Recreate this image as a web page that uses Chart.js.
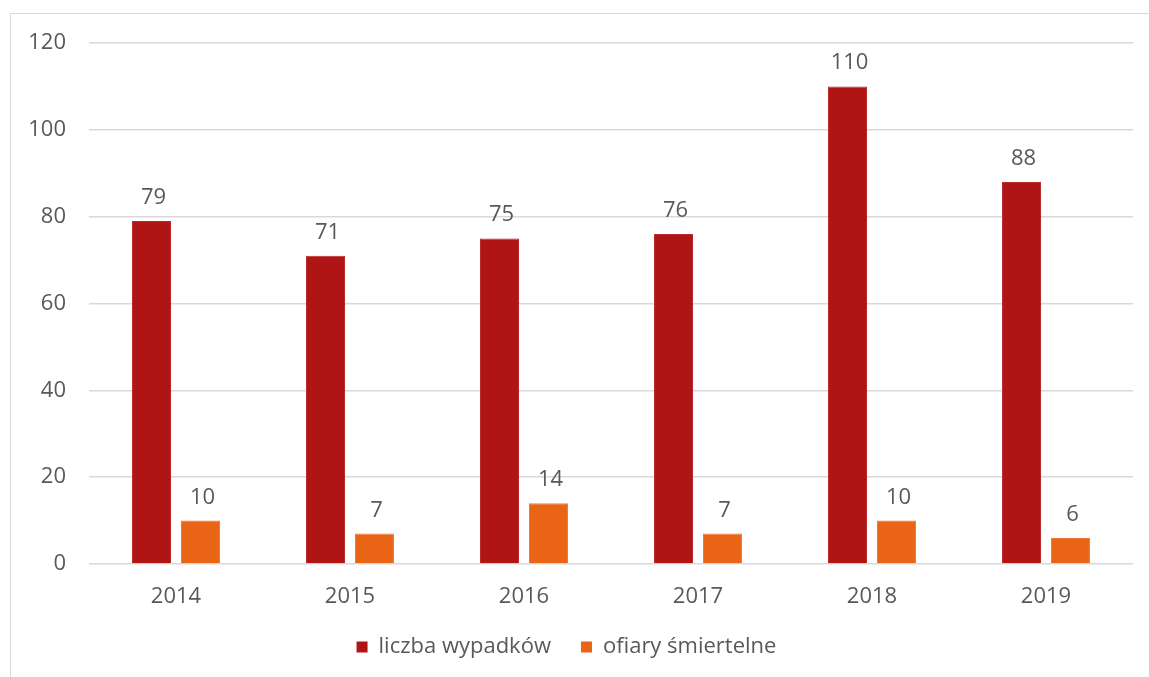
<!DOCTYPE html>
<html>
<head>
<meta charset="utf-8">
<script src="https://cdn.jsdelivr.net/npm/chart.js@4/dist/chart.umd.min.js"></script>
<style>
html,body{margin:0;padding:0;background:#fff;}
#wrap{position:relative;width:1149px;height:677px;overflow:hidden;}
#frame{position:absolute;left:10px;top:13px;width:1200px;height:700px;border-left:1px solid #d9d9d9;border-top:1px solid #d9d9d9;}
canvas{position:absolute;left:0;top:0;}
</style>
</head>
<body>
<div id="wrap"><div id="frame"></div><canvas id="c" width="1149" height="677"></canvas></div>
<script>
const categories = ['2014','2015','2016','2017','2018','2019'];
const accidents = [79, 71, 75, 76, 110, 88];
const fatalities = [10, 7, 14, 7, 10, 6];
const seriesNames = ['liczba wypadków', 'ofiary śmiertelne'];
const yTicks = [0, 20, 40, 60, 80, 100, 120];

const FONT = '"Open Sans", sans-serif';
const TXT = '#595959';

const labelPlugin = {
  id: 'valueLabels',
  afterDatasetsDraw(chart) {
    const ctx = chart.ctx;
    ctx.save();
    ctx.font = '22px ' + FONT;
    ctx.fillStyle = TXT;
    ctx.textAlign = 'center';
    ctx.textBaseline = 'alphabetic';
    chart.data.datasets.forEach((ds, i) => {
      const meta = chart.getDatasetMeta(i);
      meta.data.forEach((el, j) => {
        ctx.fillText(String(ds.data[j]), el.x + 2, el.y - 17);
      });
    });
    ctx.restore();
  }
};

new Chart(document.getElementById('c'), {
  type: 'bar',
  data: {
    labels: categories,
    datasets: [
      { label: seriesNames[0], data: accidents, backgroundColor: '#b01516', borderColor: '#b92a2a', borderWidth: 1 },
      { label: seriesNames[1], data: fatalities, backgroundColor: '#ea6415', borderColor: '#ee7a38', borderWidth: 1 }
    ]
  },
  options: {
    responsive: false,
    animation: false,
    devicePixelRatio: 1,
    categoryPercentage: 0.563,
    barPercentage: 0.796,
    layout: { padding: { left: 0, right: 16, top: 43, bottom: 9 } },
    plugins: {
      legend: {
        position: 'bottom',
        labels: {
          font: { family: FONT, size: 22 },
          color: TXT,
          boxWidth: 11,
          boxHeight: 11,
          padding: 30,
          generateLabels(chart) {
            return chart.data.datasets.map((ds, i) => ({
              text: ds.label, fillStyle: ds.backgroundColor, strokeStyle: ds.backgroundColor,
              lineWidth: 0, datasetIndex: i, fontColor: TXT
            }));
          }
        }
      },
      tooltip: { enabled: false }
    },
    scales: {
      x: {
        grid: { display: false, drawTicks: false },
        border: { display: false },
        ticks: { font: { family: FONT, size: 22 }, color: TXT, padding: 20 },
        afterFit(s) { s.height = 42; }
      },
      y: {
        min: 0, max: 120,
        afterBuildTicks(s) { s.ticks = yTicks.map(v => ({ value: v })); },
        grid: { color: '#d9d9d9', lineWidth: 1.5, drawTicks: false },
        border: { display: false },
        ticks: { font: { family: FONT, size: 22 }, color: TXT, padding: 23 },
        afterFit(s) { s.width = 89; }
      }
    }
  },
  plugins: [labelPlugin]
});
</script>
</body>
</html>
